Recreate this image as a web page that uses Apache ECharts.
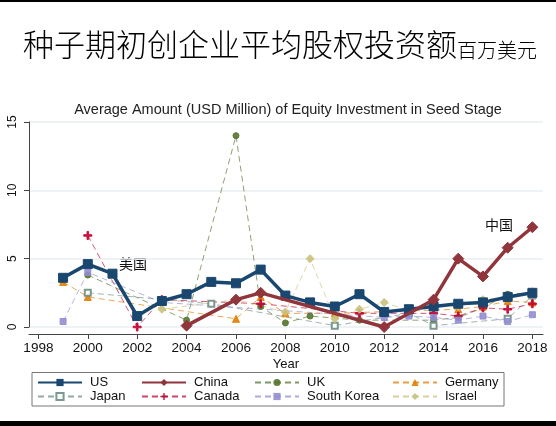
<!DOCTYPE html>
<html><head><meta charset="utf-8">
<script src="https://cdn.jsdelivr.net/npm/echarts@6/dist/echarts.min.js"></script>
<style>html,body{margin:0;padding:0;background:#fff}#c{width:556px;height:426px}</style>
</head><body><div id="c"></div>
<script>
var years = [1999,2000,2001,2002,2003,2004,2005,2006,2007,2008,2009,2010,2011,2012,2013,2014,2015,2016,2017,2018];
var xTicks = [1998,2000,2002,2004,2006,2008,2010,2012,2014,2016,2018];
var yTicks = [0,5,10,15];
var us      = [3.6,4.6,3.9,0.8,1.9,2.4,3.3,3.2,4.2,2.3,1.8,1.5,2.4,1.1,1.3,1.5,1.7,1.8,2.2,2.5];
var china   = [null,null,null,null,null,0.1,null,2.0,2.5,null,null,null,null,0.0,null,2.0,5.0,3.7,5.8,7.3];
var uk      = [null,3.8,null,null,null,0.5,null,14.0,1.5,0.3,0.8,null,0.5,null,null,0.5,0.7,1.4,2.4,2.5];
var germany = [3.3,2.2,null,null,null,null,null,0.6,2.2,1.0,null,1.0,null,null,null,null,1.3,1.5,1.9,1.8];
var japan   = [null,2.5,null,null,null,null,1.7,null,null,null,null,0.1,null,null,1.0,0.1,null,null,0.6,2.3];
var canada  = [null,6.7,null,0.0,2.0,null,null,null,1.7,null,null,null,1.0,1.0,null,1.0,0.8,1.4,1.3,1.7];
var korea   = [0.4,4.0,null,null,1.8,null,null,null,null,null,null,null,null,0.7,0.8,0.7,0.5,0.8,0.4,0.9];
var israel  = [null,null,null,null,1.3,null,null,2.0,null,1.1,5.0,0.6,1.3,1.8,1.2,1.6,1.5,2.0,2.2,2.6];
var names = ['US','China','UK','Germany','Japan','Canada','South Korea','Israel'];

function pairs(arr){ return years.map(function(y,i){ return [y, arr[i]]; }); }
var plus = 'path://M4,0h2v4h4v2h-4v4h-2v-4h-4v-2h4z';
function mk(name, arr, color, symbol, size, main){
  return {
    name: name, type: 'line', data: pairs(arr), connectNulls: true,
    symbol: symbol, symbolSize: size, showAllSymbol: true,
    lineStyle: main ? {color: color, width: 3.5} : {color: color, width: 0.9, type: [6,4], opacity: 0.75},
    itemStyle: {color: color, borderColor: color, opacity: main ? 1 : 0.9},
    z: main ? 5 : 3
  };
}
var series = [
  mk('US', us, '#1a476f', 'rect', 9, true),
  mk('China', china, '#90353b', 'diamond', 11, true),
  mk('UK', uk, '#55752f', 'circle', 6, false),
  mk('Germany', germany, '#e37e00', 'triangle', 7, false),
  mk('Japan', japan, '#6e8e84', 'emptyRect', 6, false),
  mk('Canada', canada, '#c10534', plus, 8, false),
  mk('South Korea', korea, '#938dd2', 'rect', 6, false),
  mk('Israel', israel, '#cac27e', 'diamond', 8, false)
];
series[1].z = 6;

var legendBase = {orient:'vertical', itemWidth:44, itemHeight:9, itemGap:1, selectedMode:false, padding:0,
  textStyle:{fontFamily:'Liberation Sans, Arial', fontSize:13, lineHeight:13, color:'#111', padding:[0,0,0,3]}};
function lg(left, data){ return Object.assign({}, legendBase, {left:left, top:376, data:data}); }

var chart = echarts.init(document.getElementById('c'), null, {renderer:'canvas'});
chart.setOption({
  backgroundColor: '#fff',
  animation: false,
  title: [
    {text: '种子期初创企业平均股权投资额{s|百万美元}', left: 18, top: 24,
     textStyle: {fontFamily: 'Noto Sans CJK SC', fontSize: 31, fontWeight: 300, color: '#000',
       rich: {s: {fontFamily: 'Noto Sans CJK SC', fontSize: 20, fontWeight: 300, color: '#000', verticalAlign: 'bottom', padding:[0,0,0,0]}}}},
    {text: 'Average Amount (USD Million) of Equity Investment in Seed Stage', left: 283, top: 97, textAlign: 'center',
     textStyle: {fontFamily: 'Liberation Sans, Arial', fontSize: 14.5, fontWeight: 'normal', color: '#222'}}
  ],
  grid: {left: 29, right: 13, top: 122, bottom: 99, containLabel: false},
  xAxis: {
    type: 'value', min: 1997.62, max: 2018.43, offset: 7,
    name: 'Year', nameLocation: 'middle', nameGap: 24,
    nameTextStyle: {fontFamily: 'Liberation Sans, Arial', fontSize: 13, color: '#111'},
    axisLine: {onZero: false, lineStyle: {color: '#444', width: 1}},
    axisTick: {show: true, length: 5, customValues: xTicks, lineStyle: {color: '#444'}},
    axisLabel: {customValues: xTicks, margin: 7, fontFamily: 'Liberation Sans, Arial', fontSize: 13.5, color: '#111',
      formatter: function(v){ return String(Math.round(v)); }},
    splitLine: {show: false}
  },
  yAxis: {
    type: 'value', min: 0, max: 15, interval: 5,
    axisLine: {show: true, lineStyle: {color: '#444', width: 1}},
    axisTick: {show: true, length: 5, lineStyle: {color: '#444'}},
    axisLabel: {rotate: 90, margin: 10, fontFamily: 'Liberation Sans, Arial', fontSize: 12, color: '#111'},
    splitLine: {show: true, lineStyle: {color: '#eaeef0', width: 1.5}}
  },
  legend: [
    lg(37, ['US','Japan']),
    lg(141, ['China','Canada']),
    lg(254, ['UK','South Korea']),
    lg(392, ['Germany','Israel'])
  ],
  graphic: [
    {type:'rect', shape:{x:32, y:372.5, width:472, height:33.5}, style:{fill:'none', stroke:'#777', lineWidth:1}, silent:true},
    {type:'text', left:119, top:257, style:{text:'美国', font:'14px "Noto Sans CJK SC"', fill:'#111'}},
    {type:'text', left:485, top:218, style:{text:'中国', font:'14px "Noto Sans CJK SC"', fill:'#111'}},
    {type:'rect', shape:{x:0, y:0, width:556, height:2}, style:{fill:'#000'}, silent:true},
    {type:'rect', shape:{x:0, y:421, width:556, height:5}, style:{fill:'#000'}, silent:true}
  ],
  series: series
});
</script>
</body></html>
